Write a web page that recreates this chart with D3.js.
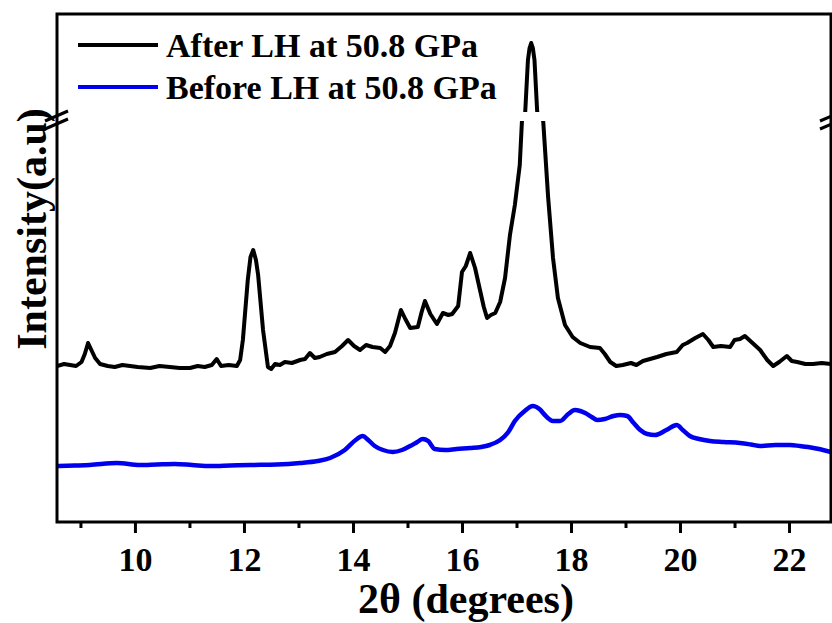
<!DOCTYPE html>
<html>
<head>
<meta charset="utf-8">
<script src="https://cdn.jsdelivr.net/npm/d3@7"></script>
<style>
  body { margin: 0; background: #fff; }
  svg text { font-family: "Liberation Serif", "Times New Roman", serif; font-weight: bold; fill: #000; }
</style>
</head>
<body>
<svg id="chart" width="832" height="623"></svg>
<script>
// 2theta (degrees) and intensity (a.u.)
const afterAngle = [8.57, 8.70, 8.81, 8.92, 9.02, 9.08, 9.14, 9.20, 9.27, 9.36, 9.50, 9.63, 9.77, 9.91, 10.05, 10.28, 10.45, 10.64, 10.82, 11.01,
  11.15, 11.28, 11.41, 11.50, 11.58, 11.72, 11.87, 11.93, 11.98, 12.07, 12.12, 12.17, 12.22, 12.26, 12.35, 12.44, 12.50, 12.57, 12.66, 12.75,
  12.88, 13.03, 13.12, 13.21, 13.30, 13.39, 13.52, 13.67, 13.80, 13.91, 14.02, 14.13, 14.24, 14.36, 14.50, 14.59, 14.68, 14.77, 14.88, 14.96,
  15.05, 15.19, 15.26, 15.32, 15.42, 15.54, 15.65, 15.75, 15.82, 15.93, 16.00, 16.07, 16.15, 16.24, 16.33, 16.40, 16.46, 16.53, 16.61, 16.70,
  16.79, 16.88, 16.97, 17.06, 17.10, 17.16, 17.21, 17.24, 17.27, 17.30, 17.33, 17.38, 17.49, 17.58, 17.67, 17.76, 17.89, 18.03, 18.17, 18.35,
  18.53, 18.62, 18.72, 18.83, 18.95, 19.10, 19.20, 19.32, 19.45, 19.58, 19.75, 19.94, 20.05, 20.13, 20.28, 20.42, 20.52, 20.61, 20.75, 20.92,
  21.00, 21.10, 21.19, 21.33, 21.47, 21.60, 21.71, 21.82, 21.96, 22.05, 22.15, 22.30, 22.44, 22.60, 22.77];
const afterIntensity = [1560, 1580, 1570, 1560, 1600, 1680, 1790, 1720, 1640, 1580, 1560, 1550, 1570, 1560, 1550, 1540, 1560, 1550, 1540, 1540,
  1560, 1550, 1570, 1630, 1560, 1570, 1560, 1620, 1820, 2420, 2650, 2720, 2620, 2470, 1920, 1550, 1530, 1580, 1570, 1600,
  1590, 1620, 1630, 1690, 1640, 1650, 1680, 1700, 1760, 1820, 1760, 1720, 1770, 1750, 1740, 1700, 1760, 1890, 2120, 2030,
  1940, 1950, 2100, 2210, 2080, 1980, 2090, 2070, 2080, 2160, 2500, 2560, 2690, 2540, 2320, 2150, 2040, 2070, 2090, 2200,
  2440, 2870, 3170, 3570, 4010, 6000, 6520, 6640, 6690, 6640, 6520, 6000, 4010, 3250, 2640, 2240, 1970, 1850, 1790, 1750,
  1740, 1680, 1600, 1560, 1570, 1590, 1570, 1610, 1630, 1650, 1680, 1700, 1770, 1790, 1840, 1880, 1820, 1750, 1760, 1750,
  1820, 1830, 1860, 1790, 1720, 1620, 1560, 1600, 1660, 1610, 1600, 1580, 1580, 1590, 1580];

const beforeAngle = [8.57, 8.90, 9.17, 9.67, 10.09, 10.40, 10.73, 11.05, 11.38, 11.75, 12.11, 12.60, 13.03, 13.35, 13.58, 13.85, 14.05, 14.18, 14.28, 14.40,
  14.55, 14.73, 14.90, 15.05, 15.18, 15.28, 15.38, 15.50, 15.69, 15.90, 16.15, 16.35, 16.51, 16.70, 16.85, 16.97, 17.15, 17.30, 17.42, 17.52,
  17.67, 17.80, 17.95, 18.07, 18.17, 18.26, 18.38, 18.48, 18.62, 18.78, 18.90, 19.03, 19.15, 19.27, 19.40, 19.54, 19.75, 19.94, 20.05, 20.18,
  20.35, 20.55, 20.80, 21.10, 21.30, 21.47, 21.75, 22.02, 22.20, 22.35, 22.55, 22.77];
const beforeIntensity = [560, 565, 570, 590, 570, 575, 580, 570, 560, 565, 570, 575, 590, 610, 640, 720, 820, 860, 820, 760,
  720, 700, 720, 760, 800, 830, 810, 730, 720, 730, 740, 750, 770, 820, 900, 1010, 1110, 1160, 1130, 1070,
  1010, 1010, 1080, 1120, 1110, 1090, 1050, 1020, 1030, 1060, 1070, 1060, 990, 920, 880, 870, 920, 970, 920, 860,
  830, 810, 800, 790, 775, 760, 770, 770, 760, 750, 730, 700];

const majorTicks = [10, 12, 14, 16, 18, 20, 22];
const minorTicks = [9, 11, 13, 15, 17, 19, 21];
const legendLabels = ["After LH at 50.8 GPa", "Before LH at 50.8 GPa"];
const seriesColors = ["#000000", "#0000ee"];

const svg = d3.select("#chart");
const m = { left: 57, right: 831, top: 14, bottom: 522 };
const breakLow = 121, breakHigh = 112; // pixel gap of the y-axis break

const x = d3.scaleLinear().domain([8.57, 22.77]).range([m.left, m.right]);
// broken y axis: lower segment 0..4010, upper segment 6000..6980
const y = d3.scaleLinear().domain([0, 4010, 6000, 6980]).range([m.bottom, breakLow, breakHigh, m.top]);

const defs = svg.append("defs");
defs.append("clipPath").attr("id", "clipLow")
  .append("rect").attr("x", m.left).attr("y", breakLow).attr("width", m.right - m.left).attr("height", m.bottom - breakLow);
defs.append("clipPath").attr("id", "clipHigh")
  .append("rect").attr("x", m.left).attr("y", m.top).attr("width", m.right - m.left).attr("height", breakHigh - m.top);

const line = d3.line().x(d => x(d[0])).y(d => y(d[1]));
const afterData = afterAngle.map((a, i) => [a, afterIntensity[i]]);
const beforeData = beforeAngle.map((a, i) => [a, beforeIntensity[i]]);

// blue series
svg.append("path")
  .attr("d", line.curve(d3.curveMonotoneX)(beforeData))
  .attr("clip-path", "url(#clipLow)")
  .attr("fill", "none").attr("stroke", seriesColors[1]).attr("stroke-width", 4.5)
  .attr("stroke-linejoin", "round");

// black series, drawn in both parts of the broken axis
["clipLow", "clipHigh"].forEach(c => {
  svg.append("path")
    .attr("d", line.curve(d3.curveLinear)(afterData))
    .attr("clip-path", "url(#" + c + ")")
    .attr("fill", "none").attr("stroke", seriesColors[0]).attr("stroke-width", 4)
    .attr("stroke-linejoin", "round");
});

// frame
svg.append("rect")
  .attr("x", m.left).attr("y", m.top).attr("width", m.right - m.left).attr("height", m.bottom - m.top)
  .attr("fill", "none").attr("stroke", "#000").attr("stroke-width", 3);

// axis break marks
[[m.left - 12, m.left + 11], [m.right - 11, m.right + 12]].forEach(([x0, x1]) => {
  [0, 8].forEach(off => {
    svg.append("line")
      .attr("x1", x0).attr("y1", 121 + off).attr("x2", x1).attr("y2", 111 + off)
      .attr("stroke", "#000").attr("stroke-width", 3);
  });
});

// x axis
const gx = svg.append("g").attr("transform", "translate(0," + m.bottom + ")");
gx.call(d3.axisBottom(x).tickValues(majorTicks).tickSize(11).tickPadding(14).tickFormat(d3.format("d")));
gx.append("g").call(d3.axisBottom(x).tickValues(minorTicks).tickSize(6).tickFormat(""));
svg.selectAll("g .domain").remove();
svg.selectAll("g .tick line").attr("stroke", "#000").attr("stroke-width", 3);
gx.selectAll(".tick text").attr("font-size", 34).attr("font-family", "Liberation Serif").attr("font-weight", "bold");

svg.append("text")
  .attr("x", 466).attr("y", 613).attr("text-anchor", "middle").attr("font-size", 42)
  .text("2θ (degrees)");

svg.append("text")
  .attr("transform", "translate(46,229) rotate(-90)")
  .attr("text-anchor", "middle").attr("font-size", 42)
  .text("Intensity(a.u)");

// legend
legendLabels.forEach((lab, i) => {
  const ly = 45 + i * 42;
  svg.append("line").attr("x1", 78).attr("x2", 158).attr("y1", ly).attr("y2", ly)
    .attr("stroke", seriesColors[i]).attr("stroke-width", 4);
  svg.append("text").attr("x", 166).attr("y", ly + 12).attr("font-size", 34).text(lab);
});
</script>
</body>
</html>
